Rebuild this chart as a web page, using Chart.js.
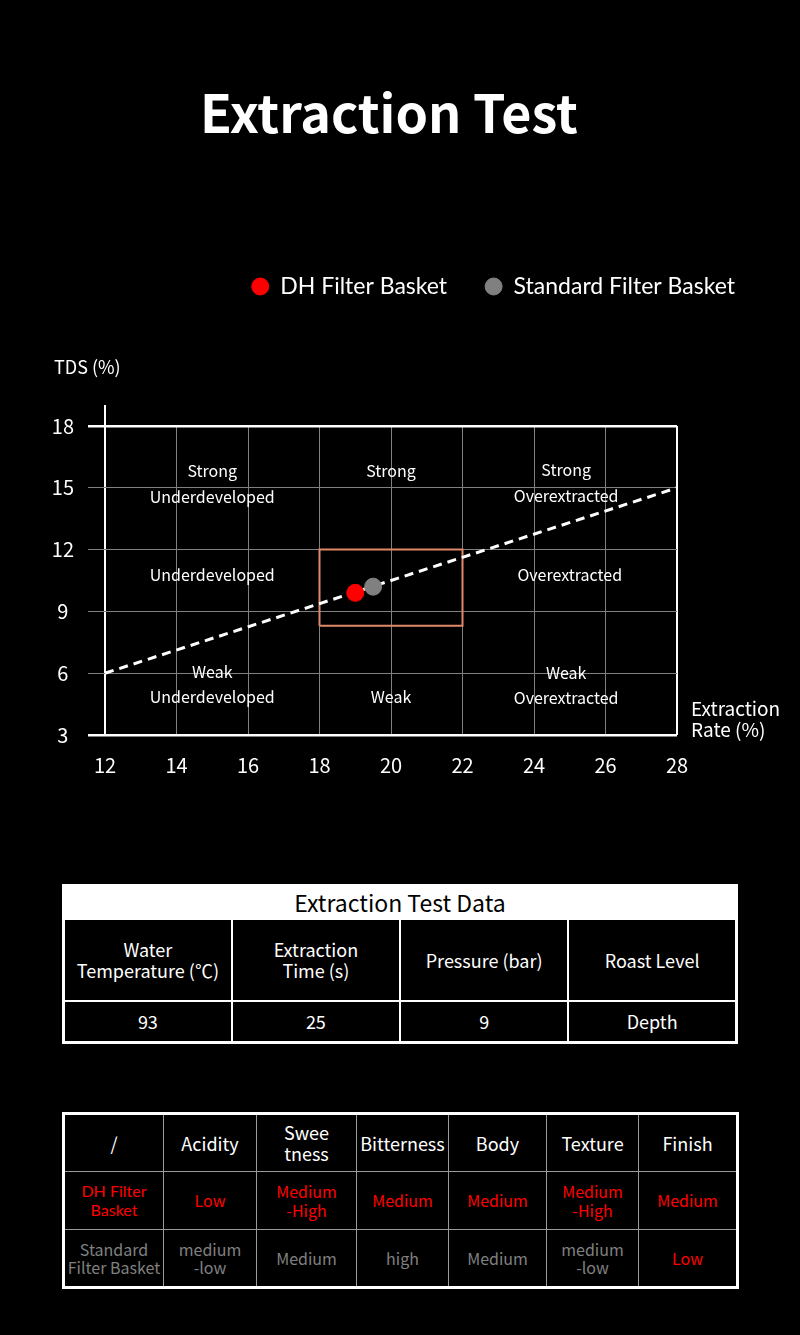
<!DOCTYPE html>
<html>
<head>
<meta charset="utf-8">
<script src="https://cdn.jsdelivr.net/npm/chart.js@4.4.1/dist/chart.umd.min.js"></script>
<style>
  html, body { margin: 0; padding: 0; background: #000; }
  body { width: 800px; height: 1335px; position: relative; overflow: hidden; font-family: "Noto Sans CJK SC", "Noto Sans", sans-serif; color: #fff; }
  h1 { position: absolute; left: 0; top: 76px; width: 778px; margin: 0; text-align: center; font-size: 52px; font-weight: 700; line-height: 70px; }
  #wrap { position: absolute; left: 0; top: 228px; width: 800px; height: 572px; }
  table { position: absolute; border-collapse: collapse; table-layout: fixed; }
  td { text-align: center; vertical-align: middle; padding: 0; line-height: 1.15; }
  #t1 { left: 62px; top: 884px; width: 676px; border: 3px solid #fff; }
  #t1 td { border: 2px solid #fff; font-size: 18px; color: #fff; }
  #t1 td.cap { background: #fff; color: #000; font-size: 23px; height: 31px; }
  #t2 { left: 62px; top: 1112px; width: 674px; border: 3px solid #fff; }
  #t2 td { border: 1.5px solid #9a9a9a; font-size: 16px; }
  #t2 tr.head td { color: #fff; font-size: 18px; }
  .red { color: #ff0000; }
  .grey { color: #808080; }
  .geo { font-family: Lato, "Noto Sans", sans-serif; }
</style>
</head>
<body>
<h1>Extraction Test</h1>
<div id="wrap"><canvas id="myChart" width="800" height="572"></canvas></div>
<table id="t1"></table>
<table id="t2"></table>
<script>
// chart values
const seriesNames = ['DH Filter Basket', 'Standard Filter Basket'];
const seriesColors = ['#ff0000', '#808080'];
const rateValues = [19, 19.5];   // extraction rate (%)
const tdsValues = [9.9, 10.2];   // TDS (%)
const trendRate = [12, 28];
const trendTds = [6, 15];
const zoneRate = [18, 22, 22, 18, 18];
const zoneTds = [8.3, 8.3, 12, 12, 8.3];
const xTicks = [12, 14, 16, 18, 20, 22, 24, 26, 28];
const yTicks = [3, 6, 9, 12, 15, 18];

// region captions (data coordinates)
const regionText = ['Strong', 'Underdeveloped', 'Strong', 'Strong', 'Overextracted',
  'Underdeveloped', 'Overextracted', 'Weak', 'Underdeveloped', 'Weak', 'Weak', 'Overextracted'];
const regionRate = [15, 15, 20, 24.9, 24.9, 15, 25, 15, 15, 20, 24.9, 24.9];
const regionTds = [15.8, 14.55, 15.8, 15.85, 14.6, 10.78, 10.75, 6.05, 4.85, 4.85, 6.0, 4.8];

// tables
const table1Title = 'Extraction Test Data';
const table1Head = ['Water<br>Temperature (℃)', 'Extraction<br>Time (s)', 'Pressure (bar)', 'Roast Level'];
const table1Row = ['93', '25', '9', 'Depth'];
const table2Head = ['/', 'Acidity', 'Swee<br>tness', 'Bitterness', 'Body', 'Texture', 'Finish'];
const table2Dh = ['DH Filter<br>Basket', 'Low', 'Medium<br>-High', 'Medium', 'Medium', 'Medium<br>-High', 'Medium'];
const table2Std = ['Standard<br>Filter Basket', 'medium<br>-low', 'Medium', 'high', 'Medium', 'medium<br>-low', 'Low'];

const toPts = (xs, ys) => xs.map((x, i) => ({x: x, y: ys[i]}));

const extras = {
  id: 'extras',
  beforeDatasetsDraw(chart) {
    const {ctx, scales: {x, y}} = chart;
    ctx.save();
    ctx.fillStyle = '#fff';
    ctx.font = '16px "Noto Sans CJK SC"';
    ctx.textAlign = 'center';
    ctx.textBaseline = 'middle';
    for (let i = 0; i < regionText.length; i++) {
      ctx.fillText(regionText[i], x.getPixelForValue(regionRate[i]), y.getPixelForValue(regionTds[i]));
    }
    ctx.restore();
  },
  afterDraw(chart) {
    const {ctx, chartArea: a, scales: {x}} = chart;
    ctx.save();
    ctx.strokeStyle = '#fff';
    ctx.lineWidth = 2;
    const lx = x.getPixelForValue(12);
    ctx.beginPath();
    ctx.moveTo(lx, a.top - 21);
    ctx.lineTo(lx, a.top);
    ctx.stroke();
    ctx.fillStyle = '#fff';
    ctx.textBaseline = 'middle';
    ctx.textAlign = 'left';
    ctx.font = '18px "Noto Sans CJK SC"';
    ctx.fillText('TDS (%)', a.left - 51, a.top - 59);
    ctx.font = '19px "Noto Sans CJK SC"';
    ctx.fillText('Extraction', a.right + 14, a.bottom - 26);
    ctx.fillText('Rate (%)', a.right + 14, a.bottom - 5);
    ctx.restore();
  }
};

new Chart('myChart', {
  type: 'scatter',
  data: {
    datasets: [
      {
        label: seriesNames[0],
        data: toPts([rateValues[0]], [tdsValues[0]]),
        backgroundColor: seriesColors[0],
        borderColor: seriesColors[0],
        pointRadius: 8.5,
        order: 0
      },
      {
        label: seriesNames[1],
        data: toPts([rateValues[1]], [tdsValues[1]]),
        backgroundColor: seriesColors[1],
        borderColor: seriesColors[1],
        pointRadius: 8.5,
        order: 0
      },
      {
        label: 'trend',
        type: 'line',
        data: toPts(trendRate, trendTds),
        borderColor: '#fff',
        borderWidth: 3,
        borderDash: [9, 6],
        pointRadius: 0,
        order: 3
      },
      {
        label: 'zone',
        type: 'line',
        data: toPts(zoneRate, zoneTds),
        borderColor: '#e0896a',
        borderWidth: 2,
        pointRadius: 0,
        tension: 0,
        order: 4
      }
    ]
  },
  options: {
    responsive: false,
    animation: false,
    layout: { padding: { top: 9, right: 27, left: 0, bottom: 0 } },
    plugins: {
      tooltip: { enabled: false },
      legend: {
        position: 'top',
        align: 'end',
        labels: {
          filter: item => item.datasetIndex < 2,
          usePointStyle: true,
          pointStyle: 'circle',
          pointStyleWidth: 17,
          boxHeight: 12,
          padding: 38,
          color: '#fff',
          font: { family: 'Lato', size: 23 }
        }
      }
    },
    scales: {
      x: {
        type: 'linear',
        min: 12, max: 28,
        afterBuildTicks: s => { s.ticks = xTicks.map(v => ({value: v})); },
        afterFit: s => { s.height = 65; },
        border: { display: false },
        grid: {
          drawTicks: false,
          color: c => (c.tick && (c.tick.value === 12 || c.tick.value === 28)) ? '#fff' : '#808080',
          lineWidth: c => (c.tick && (c.tick.value === 12 || c.tick.value === 28)) ? 2 : 1
        },
        ticks: { color: '#fff', padding: 18, font: { family: 'Noto Sans CJK SC', size: 20 } }
      },
      y: {
        type: 'linear',
        min: 3, max: 18,
        afterBuildTicks: s => { s.ticks = yTicks.map(v => ({value: v})); },
        afterFit: s => { s.width = 105; },
        border: { display: false },
        grid: {
          tickLength: 17,
          color: c => (c.tick && (c.tick.value === 3 || c.tick.value === 18)) ? '#fff' : '#808080',
          lineWidth: c => (c.tick && (c.tick.value === 3 || c.tick.value === 18)) ? 2.5 : 1
        },
        ticks: { color: '#fff', padding: 14, crossAlign: 'center', font: { family: 'Noto Sans CJK SC', size: 20 } }
      },
      yRight: {
        type: 'linear',
        position: 'right',
        display: true,
        afterFit: s => { s.width = 96; },
        border: { display: false },
        grid: { display: false, drawTicks: false },
        ticks: { display: false }
      },
      xTop: {
        type: 'linear',
        position: 'top',
        display: true,
        afterFit: s => { s.height = 118; },
        border: { display: false },
        grid: { display: false, drawTicks: false },
        ticks: { display: false }
      }
    }
  },
  plugins: [extras]
});

// build tables
const t1 = document.getElementById('t1');
t1.innerHTML =
  `<tr><td class="cap" colspan="4">${table1Title}</td></tr>` +
  `<tr style="height:82px">${table1Head.map(h => `<td>${h}</td>`).join('')}</tr>` +
  `<tr style="height:41px">${table1Row.map(v => `<td>${v}</td>`).join('')}</tr>`;

const colW = [100, 93, 100, 92, 98, 92, 99];
const t2 = document.getElementById('t2');
t2.innerHTML =
  `<colgroup>${colW.map(w => `<col style="width:${w}px">`).join('')}</colgroup>` +
  `<tr class="head" style="height:58px">${table2Head.map(h => `<td>${h}</td>`).join('')}</tr>` +
  `<tr style="height:58px">${table2Dh.map((v, i) => `<td class="red${i === 0 ? ' geo' : ''}">${v}</td>`).join('')}</tr>` +
  `<tr style="height:58px">${table2Std.map((v, i) => `<td class="${v === 'Low' ? 'red' : 'grey'}">${v}</td>`).join('')}</tr>`;
</script>
</body>
</html>
